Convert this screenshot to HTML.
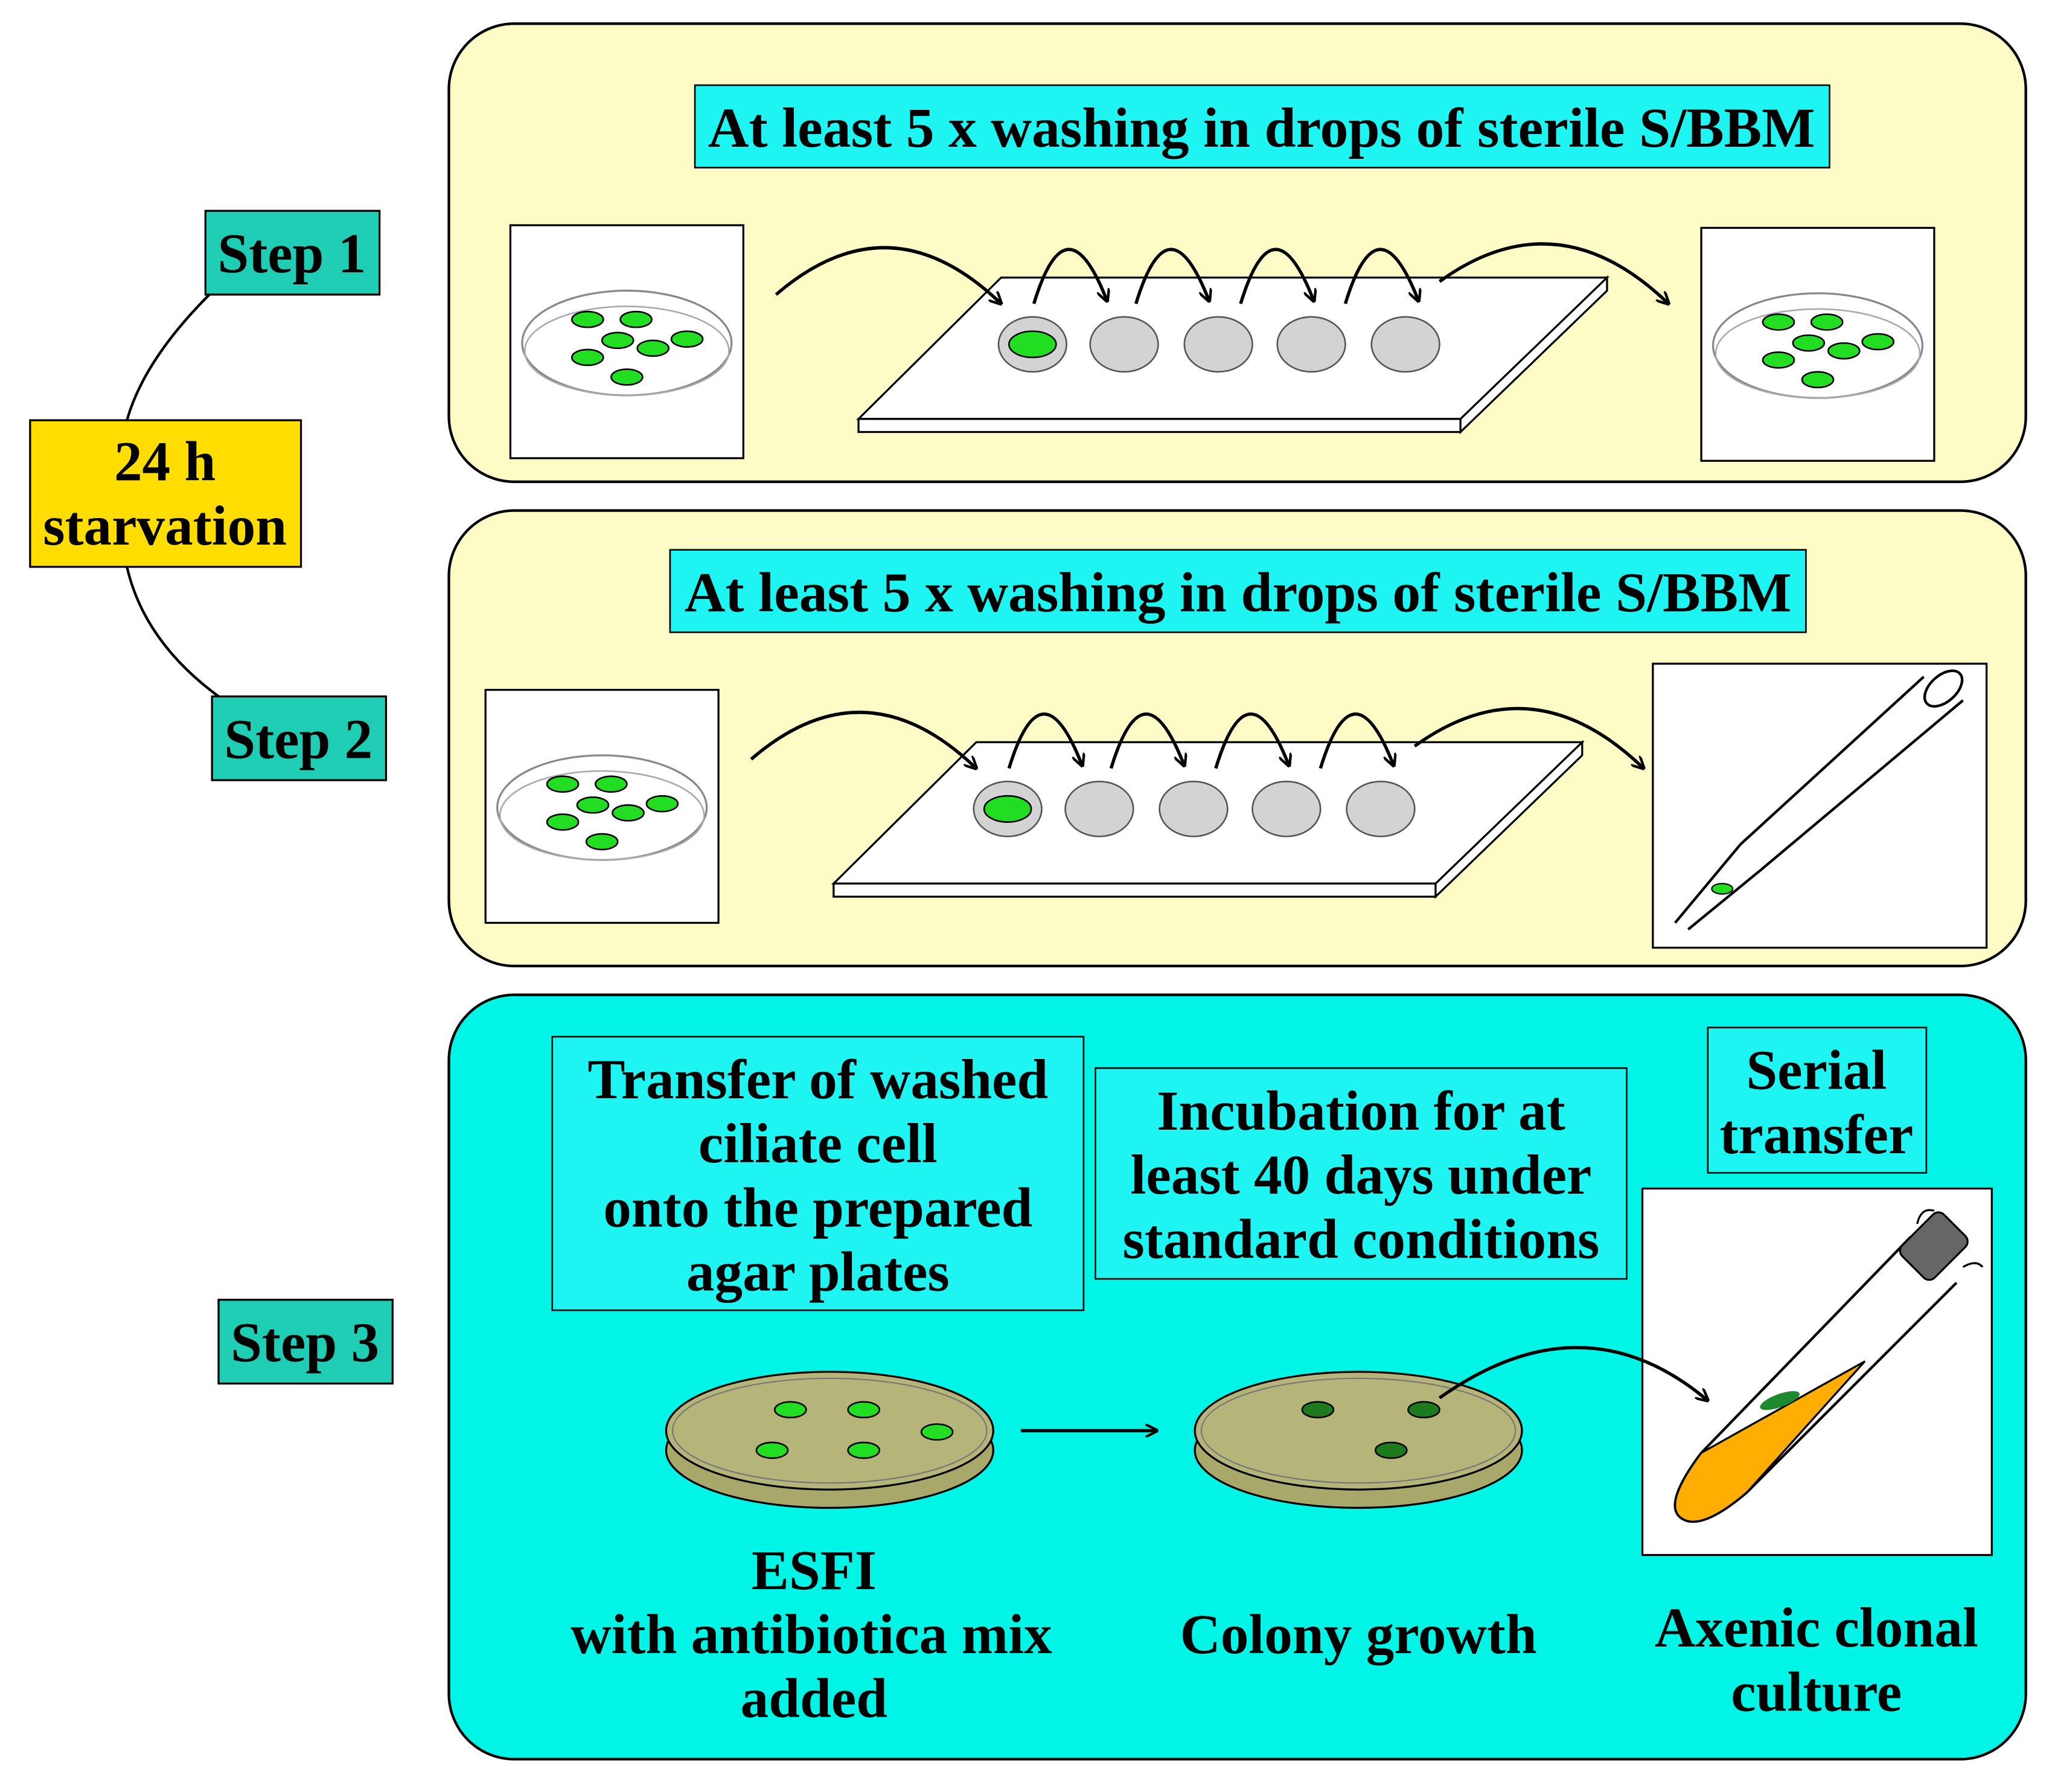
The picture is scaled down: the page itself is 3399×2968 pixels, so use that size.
<!DOCTYPE html>
<html><head><meta charset="utf-8"><style>html,body{margin:0;padding:0;background:#fff}svg{display:block}</style></head><body>
<svg width="3399" height="2968" viewBox="0 0 1568 1369" xmlns="http://www.w3.org/2000/svg" font-family="'Liberation Serif',serif" font-weight="bold">
<defs>
<marker id="ah" markerWidth="10" markerHeight="10" refX="9" refY="5" orient="auto" markerUnits="userSpaceOnUse"><path d="M0,0 L10,5 L0,10" fill="none" stroke="#000" stroke-width="2"/></marker>
<g id="dish">
<ellipse cx="0" cy="0" rx="80" ry="40" fill="#fff" stroke="#888" stroke-width="1.5"/>
<ellipse cx="0" cy="6" rx="78" ry="34" fill="none" stroke="#aaa" stroke-width="1.2"/>
<g fill="#22dd22" stroke="#000" stroke-width="1.2">
<ellipse cx="-30" cy="-18" rx="12" ry="6"/><ellipse cx="7" cy="-18" rx="12" ry="6"/><ellipse cx="-7" cy="-2" rx="12" ry="6"/><ellipse cx="20" cy="4" rx="12" ry="6"/><ellipse cx="46" cy="-3" rx="12" ry="6"/><ellipse cx="-30" cy="11" rx="12" ry="6"/><ellipse cx="0" cy="26" rx="12" ry="6"/>
</g></g>
<g id="slide">
<path d="M656,320 L765,212 L1228,212 L1116,320 Z" fill="#fff" stroke="#000" stroke-width="1.5"/>
<path d="M656,320 L1116,320 L1116,330 L656,330 Z" fill="#fff" stroke="#000" stroke-width="1.5"/>
<path d="M1116,320 L1228,212 L1228,222 L1116,330 Z" fill="#fff" stroke="#000" stroke-width="1.5"/>
<g fill="#d3d3d3" stroke="#555" stroke-width="1.2">
<ellipse cx="789" cy="263" rx="26" ry="21"/><ellipse cx="859" cy="263" rx="26" ry="21"/><ellipse cx="931" cy="263" rx="26" ry="21"/><ellipse cx="1002" cy="263" rx="26" ry="21"/><ellipse cx="1074" cy="263" rx="26" ry="21"/>
</g>
<ellipse cx="789" cy="263" rx="18" ry="10" fill="#22dd22" stroke="#000" stroke-width="1.2"/>
<g fill="none" stroke="#000" stroke-width="2.5" marker-end="url(#ah)">
<path d="M593,225 Q680,150 765,232"/>
<path d="M790,232 Q815,150 846,230"/>
<path d="M868,232 Q893,150 924,230"/>
<path d="M948,232 Q973,150 1004,230"/>
<path d="M1028,232 Q1053,150 1084,230"/>
<path d="M1100,215 Q1190,150 1275,232"/>
</g>
</g>
</defs>
<path d="M160,225 Q110,275 97,321" fill="none" stroke="#000" stroke-width="2"/>
<path d="M97,433 Q110,490 167,532" fill="none" stroke="#000" stroke-width="2"/>
<g font-size="43" text-anchor="middle">
<rect x="157" y="161" width="133" height="64" fill="#1fcdb5" stroke="#000" stroke-width="1.5"/><text x="223" y="208">Step 1</text>
<rect x="23" y="321" width="207" height="112" fill="#ffdd00" stroke="#000" stroke-width="1.5"/><text x="126" y="367">24 h</text><text x="126" y="416">starvation</text>
<rect x="162" y="532" width="133" height="64" fill="#1fcdb5" stroke="#000" stroke-width="1.5"/><text x="228" y="579">Step 2</text>
<rect x="167" y="993" width="133" height="64" fill="#1fcdb5" stroke="#000" stroke-width="1.5"/><text x="233" y="1040">Step 3</text>
</g>
<rect x="343" y="18" width="1205" height="350" rx="50" fill="#fdfcc6" stroke="#000" stroke-width="2"/>
<rect x="531" y="65" width="867" height="63" fill="#1ef5f2" stroke="#000" stroke-width="1.2"/>
<text x="964" y="112" font-size="43" text-anchor="middle" textLength="846" lengthAdjust="spacingAndGlyphs">At least 5 x washing in drops of sterile S/BBM</text>
<rect x="390" y="172" width="178" height="178" fill="#fff" stroke="#000" stroke-width="1.5"/>
<use href="#dish" x="479" y="262"/>
<use href="#slide"/>
<rect x="1300" y="174" width="178" height="178" fill="#fff" stroke="#000" stroke-width="1.5"/>
<use href="#dish" x="1389" y="264"/>
<rect x="343" y="390" width="1205" height="348" rx="50" fill="#fdfcc6" stroke="#000" stroke-width="2"/>
<rect x="512" y="420" width="868" height="63" fill="#1ef5f2" stroke="#000" stroke-width="1.2"/>
<text x="946" y="467" font-size="43" text-anchor="middle" textLength="846" lengthAdjust="spacingAndGlyphs">At least 5 x washing in drops of sterile S/BBM</text>
<rect x="371" y="527" width="178" height="178" fill="#fff" stroke="#000" stroke-width="1.5"/>
<use href="#dish" x="460" y="617"/>
<use href="#slide" x="-19" y="355"/>
<rect x="1263" y="507" width="255" height="217" fill="#fff" stroke="#000" stroke-width="1.5"/>
<path d="M1470,517 L1330,645 L1280,705 M1500,535 L1345,665 L1290,710" fill="none" stroke="#000" stroke-width="2"/>
<ellipse cx="1485" cy="526" rx="17" ry="10" transform="rotate(-42 1485 526)" fill="#fff" stroke="#000" stroke-width="2"/>
<ellipse cx="1316" cy="679" rx="8" ry="4" fill="#22dd22" stroke="#000" stroke-width="1"/>
<rect x="343" y="760" width="1205" height="584" rx="50" fill="#00f5e6" stroke="#000" stroke-width="2"/>
<g font-size="43" text-anchor="middle">
<rect x="422" y="792" width="406" height="209" fill="#1ef5f2" stroke="#000" stroke-width="1.2"/>
<text x="625" y="839">Transfer of washed</text><text x="625" y="888">ciliate cell</text><text x="625" y="937">onto the prepared</text><text x="625" y="986">agar plates</text>
<rect x="837" y="816" width="406" height="161" fill="#1ef5f2" stroke="#000" stroke-width="1.2"/>
<text x="1040" y="863">Incubation for at</text><text x="1040" y="912">least 40 days under</text><text x="1040" y="961">standard conditions</text>
<rect x="1305" y="785" width="167" height="111" fill="#1ef5f2" stroke="#000" stroke-width="1.2"/>
<text x="1388" y="832">Serial</text><text x="1388" y="881">transfer</text>
<text x="622" y="1214">ESFI</text><text x="620" y="1263">with antibiotica mix</text><text x="622" y="1312">added</text>
<text x="1038" y="1263">Colony growth</text>
<text x="1388" y="1258">Axenic clonal</text><text x="1388" y="1307">culture</text>
</g>
<g>
<ellipse cx="634" cy="1108" rx="125" ry="44" fill="#a8a86a" stroke="#000" stroke-width="1.5"/>
<ellipse cx="634" cy="1093" rx="125" ry="45" fill="#b5b57a" stroke="#000" stroke-width="1.5"/>
<ellipse cx="634" cy="1093" rx="120" ry="40" fill="none" stroke="#777" stroke-width="1"/>
<g fill="#22dd22" stroke="#000" stroke-width="1.2"><ellipse cx="604" cy="1077" rx="12" ry="6"/><ellipse cx="660" cy="1077" rx="12" ry="6"/><ellipse cx="716" cy="1094" rx="12" ry="6"/><ellipse cx="590" cy="1108" rx="12" ry="6"/><ellipse cx="660" cy="1108" rx="12" ry="6"/></g>
</g>
<path d="M780,1093 L884,1093" stroke="#000" stroke-width="2.5" marker-end="url(#ah)"/>
<g>
<ellipse cx="1038" cy="1108" rx="125" ry="44" fill="#a8a86a" stroke="#000" stroke-width="1.5"/>
<ellipse cx="1038" cy="1093" rx="125" ry="45" fill="#b5b57a" stroke="#000" stroke-width="1.5"/>
<ellipse cx="1038" cy="1093" rx="120" ry="40" fill="none" stroke="#777" stroke-width="1"/>
<g fill="#1d7a1d" stroke="#000" stroke-width="1.2"><ellipse cx="1007" cy="1077" rx="12" ry="6"/><ellipse cx="1088" cy="1077" rx="12" ry="6"/><ellipse cx="1063" cy="1108" rx="12" ry="6"/></g>
</g>
<rect x="1255" y="908" width="267" height="280" fill="#fff" stroke="#000" stroke-width="1.5"/>
<path d="M1460,945 L1300,1110 Q1270,1150 1285,1160 Q1300,1170 1335,1140 L1495,980" fill="#fff" stroke="#000" stroke-width="2"/>
<path d="M1425,1040 L1300,1110 Q1270,1150 1285,1160 Q1300,1170 1335,1140 Z" fill="#ffad00" stroke="#000" stroke-width="1.5"/>
<ellipse cx="1360" cy="1070" rx="16" ry="5" transform="rotate(-20 1360 1070)" fill="#1d8a2d"/>
<rect x="1455" y="935" width="45" height="35" rx="6" transform="rotate(-45 1477 952)" fill="#666" stroke="#000" stroke-width="1.5"/>
<path d="M1465,935 Q1468,922 1478,925 M1500,968 Q1510,962 1515,968" fill="none" stroke="#000" stroke-width="1.5"/>
<path d="M1100,1068 Q1210,990 1305,1070" fill="none" stroke="#000" stroke-width="2.5" marker-end="url(#ah)"/>
</svg>
</body></html>
